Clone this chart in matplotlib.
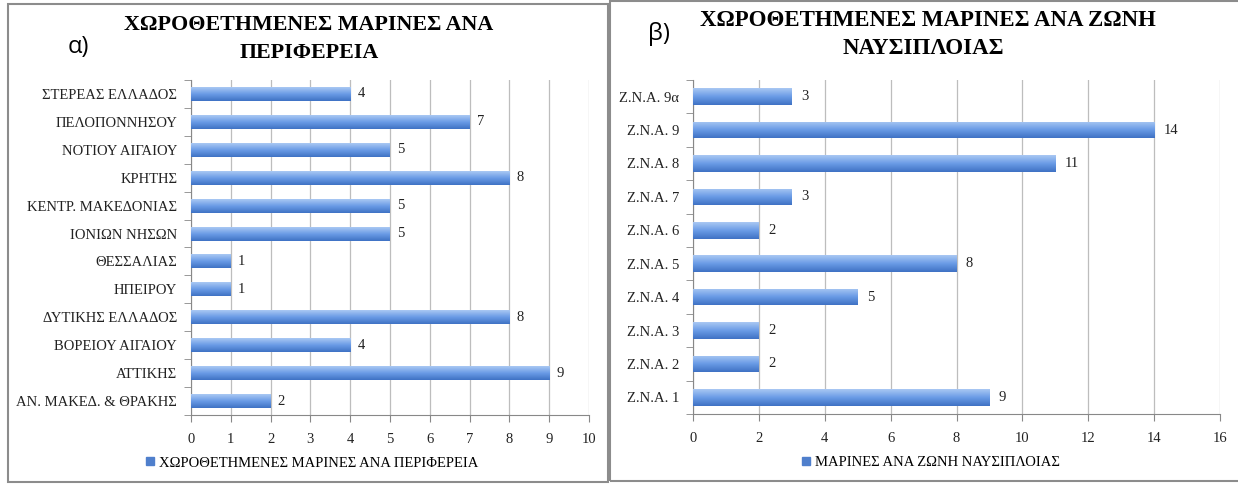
import numpy as np
import matplotlib
matplotlib.use('Agg')
import matplotlib.pyplot as plt
from matplotlib.colors import LinearSegmentedColormap
from matplotlib.patches import Rectangle
from matplotlib.lines import Line2D

# --- data ---
regions = ['ΑΝ. ΜΑΚΕΔ. & ΘΡΑΚΗΣ', 'ΑΤΤΙΚΗΣ', 'ΒΟΡΕΙΟΥ ΑΙΓΑΙΟΥ', 'ΔΥΤΙΚΗΣ ΕΛΛΑΔΟΣ',
           'ΗΠΕΙΡΟΥ', 'ΘΕΣΣΑΛΙΑΣ', 'ΙΟΝΙΩΝ ΝΗΣΩΝ', 'ΚΕΝΤΡ. ΜΑΚΕΔΟΝΙΑΣ',
           'ΚΡΗΤΗΣ', 'ΝΟΤΙΟΥ ΑΙΓΑΙΟΥ', 'ΠΕΛΟΠΟΝΝΗΣΟΥ', 'ΣΤΕΡΕΑΣ ΕΛΛΑΔΟΣ']
region_counts = [2, 9, 4, 8, 1, 1, 5, 5, 8, 5, 7, 4]

zones = ['Z.N.A. 1', 'Z.N.A. 2', 'Z.N.A. 3', 'Z.N.A. 4', 'Z.N.A. 5',
         'Z.N.A. 6', 'Z.N.A. 7', 'Z.N.A. 8', 'Z.N.A. 9', 'Z.N.A. 9α']
zone_counts = [9, 2, 2, 5, 8, 2, 3, 11, 14, 3]

SERIF = 'Liberation Serif'
SANS = 'Open Sans'
W, H = 1238, 484
FS = 10.5

grad = LinearSegmentedColormap.from_list('bar', ['#3f72c4', '#6a9be6', '#a9c8f3'])


def px(x0, y0, x1, y1):
    # pixel box (top-left origin) -> figure fraction rect
    return [x0 / W, 1 - y1 / H, (x1 - x0) / W, (y1 - y0) / H]


def draw_panel(ax, cats, vals, xmax, step):
    y = np.arange(len(cats))
    bars = ax.barh(y, vals, height=0.5, color='#5b8bd6', zorder=2)
    g = np.linspace(0, 1, 64).reshape(-1, 1)
    for b in bars:
        x0, y0 = b.get_x(), b.get_y()
        im = ax.imshow(g, cmap=grad, aspect='auto', origin='lower',
                       extent=[x0, x0 + b.get_width(), y0, y0 + b.get_height()], zorder=3)
        im.set_clip_path(b)
    for yi, v in zip(y, vals):
        ax.text(v + xmax * 0.018, yi, str(v), va='center', ha='left',
                fontsize=FS, family=SERIF, color='#222222')
    ax.set_xlim(0, xmax)
    ax.set_ylim(-0.5, len(cats) - 0.5)
    ax.set_xticks(np.arange(0, xmax + 1, step))
    ax.set_yticks(y)
    ax.set_yticklabels(cats)
    ax.set_yticks(np.arange(-0.5, len(cats), 1), minor=True)
    ax.tick_params(axis='y', which='major', length=0, pad=10)
    ax.tick_params(axis='y', which='minor', length=5, color='#888888', direction='out')
    ax.tick_params(axis='x', length=5, color='#888888', direction='out', pad=8)
    for lab in ax.get_xticklabels() + ax.get_yticklabels():
        lab.set_fontfamily(SERIF)
        lab.set_fontsize(FS)
        lab.set_color('#222222')
    ax.grid(axis='x', color='#bdbdbd', linewidth=0.9, zorder=0)
    ax.set_axisbelow(True)
    for s in ['top', 'right']:
        ax.spines[s].set_visible(False)
    for s in ['left', 'bottom']:
        ax.spines[s].set_color('#888888')
    h = Line2D([], [], marker='s', linestyle='none', markersize=5.5,
               markerfacecolor='#4f7fcc', markeredgecolor='#4f7fcc')
    return h


fig = plt.figure(figsize=(W / 100, H / 100), dpi=100)
fig.patch.set_facecolor('white')

# panel frames
fig.add_artist(Rectangle((8 / W, 1 - 482 / H), 600 / W, 478 / H, transform=fig.transFigure,
                         fill=False, edgecolor='#8c8c8c', linewidth=1.5))
fig.add_artist(Rectangle((610 / W, 1 - 481 / H), 640 / W, 480 / H, transform=fig.transFigure,
                         fill=False, edgecolor='#8c8c8c', linewidth=1.5))

ax1 = fig.add_axes(px(191, 80, 589, 415))
h1 = draw_panel(ax1, regions, region_counts, 10, 1)
ax2 = fig.add_axes(px(693, 80, 1220, 414))
h2 = draw_panel(ax2, zones, zone_counts, 16, 2)

# titles
fig.text(309 / W, 1 - 25 / H, 'ΧΩΡΟΘΕΤΗΜΕΝΕΣ ΜΑΡΙΝΕΣ ΑΝΑ', ha='center', va='center',
         fontsize=15.8, fontweight='bold', family=SERIF)
fig.text(309 / W, 1 - 53 / H, 'ΠΕΡΙΦΕΡΕΙΑ', ha='center', va='center',
         fontsize=15.8, fontweight='bold', family=SERIF)
fig.text(928 / W, 1 - 21 / H, 'ΧΩΡΟΘΕΤΗΜΕΝΕΣ ΜΑΡΙΝΕΣ ΑΝΑ ΖΩΝΗ', ha='center', va='center',
         fontsize=16.5, fontweight='bold', family=SERIF)
fig.text(923 / W, 1 - 48 / H, 'ΝΑΥΣΙΠΛΟΙΑΣ', ha='center', va='center',
         fontsize=16.5, fontweight='bold', family=SERIF)
fig.text(68 / W, 1 - 47 / H, 'α)', ha='left', va='center', fontsize=17, family=SANS)
fig.text(648 / W, 1 - 34 / H, 'β)', ha='left', va='center', fontsize=17, family=SANS)

# legends
fig.legend([h1], ['ΧΩΡΟΘΕΤΗΜΕΝΕΣ ΜΑΡΙΝΕΣ ΑΝΑ ΠΕΡΙΦΕΡΕΙΑ'], loc='center',
           bbox_to_anchor=(312 / W, 1 - 463 / H), frameon=False, handlelength=0.6,
           handletextpad=0.3, prop={'family': SERIF, 'size': FS})
fig.legend([h2], ['ΜΑΡΙΝΕΣ ΑΝΑ ΖΩΝΗ ΝΑΥΣΙΠΛΟΙΑΣ'], loc='center',
           bbox_to_anchor=(931 / W, 1 - 462 / H), frameon=False, handlelength=0.6,
           handletextpad=0.3, prop={'family': SERIF, 'size': FS})

fig.savefig('out.png', dpi=100)
